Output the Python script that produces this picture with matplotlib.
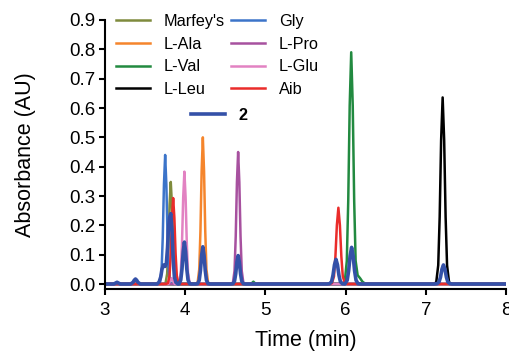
import matplotlib
matplotlib.use("Agg")
import matplotlib.pyplot as plt

plt.rcParams['font.family'] = ['Liberation Sans', 'DejaVu Sans']

# chromatogram traces: (time in min, absorbance in AU)
marfey_t = [3.0, 3.73, 3.755, 3.775, 3.79, 3.805, 3.82, 3.835, 3.85, 3.865, 3.885, 3.91, 8.0]
marfey_y = [0, 0, 0.003, 0.035, 0.125, 0.268, 0.348, 0.268, 0.125, 0.035, 0.003, 0, 0]

ala_t = [3.0, 4.13, 4.155, 4.175, 4.19, 4.205, 4.22, 4.235, 4.25, 4.265, 4.285, 4.31, 8.0]
ala_y = [0, 0, 0.005, 0.05, 0.18, 0.385, 0.50, 0.385, 0.18, 0.05, 0.005, 0, 0]

val_t = [3.0, 4.82, 4.85, 4.88, 5.96, 5.99, 6.015, 6.033, 6.051, 6.07, 6.089, 6.107,
         6.125, 6.15, 6.18, 6.21, 6.25, 8.0]
val_y = [0, 0, 0.008, 0, 0, 0.008, 0.079, 0.284, 0.608, 0.79, 0.608, 0.284,
         0.079, 0.03, 0.02, 0.008, 0, 0]

leu_t = [3.0, 7.10, 7.13, 7.155, 7.173, 7.191, 7.21, 7.229, 7.247, 7.265, 7.29, 7.32, 8.0]
leu_y = [0, 0, 0.006, 0.064, 0.229, 0.49, 0.636, 0.49, 0.229, 0.064, 0.006, 0, 0]

gly_t = [3.0, 3.66, 3.685, 3.705, 3.72, 3.735, 3.75, 3.765, 3.78, 3.795, 3.815, 3.84, 8.0]
gly_y = [0, 0, 0.004, 0.044, 0.158, 0.339, 0.44, 0.339, 0.158, 0.044, 0.004, 0, 0]

pro_t = [3.0, 4.57, 4.595, 4.615, 4.63, 4.645, 4.66, 4.675, 4.69, 4.705, 4.725, 4.75, 8.0]
pro_y = [0, 0, 0.0045, 0.045, 0.162, 0.347, 0.45, 0.347, 0.162, 0.045, 0.0045, 0, 0]

glu_t = [3.0, 3.79, 3.81, 3.83, 3.85, 3.87, 3.90, 3.925, 3.945, 3.96, 3.975, 3.99,
         4.005, 4.02, 4.035, 4.055, 4.08, 8.0]
glu_y = [0, 0, 0.01, 0.02, 0.01, 0, 0, 0.004, 0.038, 0.138, 0.295, 0.383,
         0.295, 0.138, 0.038, 0.004, 0, 0]

aib_t = [3.0, 3.76, 3.785, 3.805, 3.82, 3.835, 3.85, 3.865, 3.88, 3.895, 3.915, 3.94,
         5.80, 5.83, 5.855, 5.873, 5.891, 5.91, 5.929, 5.947, 5.965, 5.99, 6.02, 8.0]
aib_y = [0, 0, 0.003, 0.029, 0.105, 0.226, 0.293, 0.226, 0.105, 0.029, 0.003, 0,
         0, 0.003, 0.026, 0.094, 0.2, 0.26, 0.2, 0.094, 0.026, 0.003, 0, 0]

cmp2_t = [3.0, 3.11, 3.13, 3.15, 3.17, 3.19,
          3.32, 3.35, 3.365, 3.38, 3.395, 3.41, 3.44,
          3.65, 3.675, 3.695, 3.71, 3.73, 3.75, 3.765, 3.78, 3.79, 3.805, 3.82,
          3.835, 3.85, 3.865, 3.885, 3.91,
          3.925, 3.945, 3.96, 3.975, 3.99, 4.005, 4.02, 4.035, 4.055, 4.08,
          4.13, 4.155, 4.175, 4.19, 4.205, 4.22, 4.235, 4.25, 4.265, 4.285, 4.31,
          4.57, 4.595, 4.615, 4.63, 4.645, 4.66, 4.675, 4.69, 4.705, 4.725, 4.75,
          5.77, 5.80, 5.825, 5.843, 5.861, 5.88, 5.899, 5.917, 5.935, 5.96,
          5.99, 6.02, 6.038, 6.056, 6.075, 6.094, 6.112, 6.13, 6.155, 6.185,
          7.11, 7.14, 7.165, 7.183, 7.201, 7.22, 7.239, 7.257, 7.275, 7.30, 7.33, 8.0]
cmp2_y = [0, 0, 0.003, 0.006, 0.003, 0,
          0, 0.006, 0.013, 0.017, 0.013, 0.006, 0,
          0, 0.007, 0.024, 0.05, 0.065, 0.06, 0.07, 0.125, 0.185, 0.226, 0.24,
          0.185, 0.087, 0.024, 0.005, 0,
          0.001, 0.014, 0.051, 0.11, 0.143, 0.11, 0.051, 0.014, 0.001, 0,
          0, 0.001, 0.013, 0.046, 0.098, 0.127, 0.098, 0.046, 0.013, 0.001, 0,
          0, 0.001, 0.01, 0.035, 0.075, 0.097, 0.075, 0.035, 0.01, 0.001, 0,
          0, 0.001, 0.008, 0.03, 0.065, 0.084, 0.065, 0.03, 0.008, 0.001,
          0, 0.013, 0.045, 0.096, 0.125, 0.096, 0.045, 0.013, 0.001, 0,
          0, 0.001, 0.007, 0.023, 0.05, 0.065, 0.05, 0.023, 0.007, 0.001, 0, 0]

traces = [
    ("Marfey's", marfey_t, marfey_y, '#7f8b3d'),
    ('L-Ala', ala_t, ala_y, '#f5852c'),
    ('L-Val', val_t, val_y, '#228a40'),
    ('L-Leu', leu_t, leu_y, '#000000'),
    ('Gly', gly_t, gly_y, '#3c74c9'),
    ('L-Pro', pro_t, pro_y, '#a7519f'),
    ('L-Glu', glu_t, glu_y, '#e282c2'),
    ('Aib', aib_t, aib_y, '#ea2c2a'),
]

x_ticks = [3, 4, 5, 6, 7, 8]
y_ticks = [0.0, 0.1, 0.2, 0.3, 0.4, 0.5, 0.6, 0.7, 0.8, 0.9]

fig = plt.figure(figsize=(5.1, 3.52), dpi=100)
ax = fig.add_axes([105 / 510, 1 - 289 / 352, 401 / 510, 269 / 352])

handles = []
for name, t, y, c in traces:
    h, = ax.plot(t, y, color=c, lw=1.8, label=name, solid_joinstyle='round')
    handles.append(h)
h2, = ax.plot(cmp2_t, cmp2_y, color='#3451a8', lw=2.6, label='2', solid_joinstyle='round')

ax.set_xlim(3, 8)
ax.set_ylim(-0.017, 0.9)
ax.set_xticks(x_ticks)
ax.set_yticks(y_ticks)
ax.set_yticklabels([f'{v:.1f}' for v in y_ticks])
for s in ['top', 'right']:
    ax.spines[s].set_visible(False)
for s in ['left', 'bottom']:
    ax.spines[s].set_linewidth(1.5)
ax.tick_params(width=1.5, length=4.3, labelsize=13.5, direction='out')
ax.tick_params(axis='x', pad=5)
ax.tick_params(axis='y', pad=2.5)
ax.set_xlabel('Time (min)', fontsize=15.5, labelpad=8)
ax.set_ylabel('Absorbance (AU)', fontsize=15.5, labelpad=24)

leg1 = fig.legend(handles=handles, ncol=2, loc='upper left',
                  bbox_to_anchor=(116 / 510, 1 - 14 / 352), frameon=False,
                  fontsize=11.7, handlelength=2.1, handletextpad=0.85,
                  columnspacing=0.35, labelspacing=0.47, borderpad=0, borderaxespad=0)
leg2 = fig.legend(handles=[h2], loc='upper left',
                  bbox_to_anchor=(191 / 510, 1 - 108 / 352), frameon=False,
                  handlelength=2.1, handletextpad=0.85,
                  borderpad=0, borderaxespad=0, prop={'weight': 'bold', 'size': 11.7})

fig.savefig('out.png', dpi=100)
